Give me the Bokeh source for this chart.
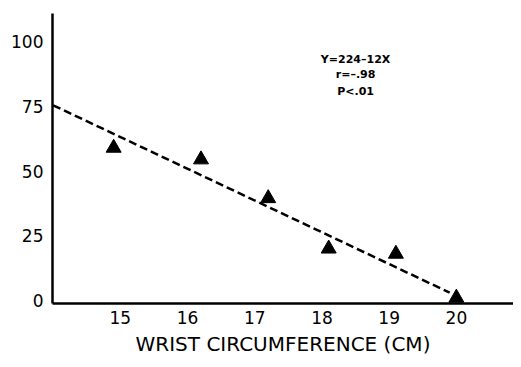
from bokeh.plotting import figure
from bokeh.models import FixedTicker, Range1d
from bokeh.core.properties import value
from bokeh.embed import file_html
from bokeh.resources import INLINE

# data
wrist_cm = [14.9, 16.2, 17.2, 18.1, 19.1, 20.0]
y_values = [59, 54.5, 39.5, 20, 18, 1]
fit_x = [14.0, 19.9]
fit_y = [75.5, 3.0]
x_ticks = [15, 16, 17, 18, 19, 20]
y_ticks = [0, 25, 50, 75, 100]
annotation = ["Y=224\u201312X", "r=\u2013.98", "P<.01"]
x_title = "WRIST CIRCUMFERENCE (CM)"

p = figure(width=513, height=359, output_backend="svg", toolbar_location=None,
           x_range=Range1d(13.99, 20.85), y_range=Range1d(-1.2, 111),
           min_border_left=52, min_border_right=0, min_border_top=13,
           min_border_bottom=56)
p.outline_line_color = None
p.grid.visible = False
p.background_fill_color = "white"
p.border_fill_color = "white"

for ax in (p.xaxis[0], p.yaxis[0]):
    ax.axis_line_width = 2.5
    ax.axis_line_color = "black"
    ax.major_tick_line_color = None
    ax.minor_tick_line_color = None
    ax.major_tick_out = 0
    ax.major_tick_in = 0
    ax.major_label_text_font = "DejaVu Sans"
    ax.major_label_text_font_size = "17px"
    ax.major_label_text_color = "black"

p.xaxis.ticker = FixedTicker(ticks=x_ticks)
p.yaxis.ticker = FixedTicker(ticks=y_ticks)
p.xaxis.major_label_standoff = 7
p.yaxis.major_label_standoff = 9
p.xaxis.axis_label = x_title
p.xaxis.axis_label_text_font = "DejaVu Sans"
p.xaxis.axis_label_text_font_style = "normal"
p.xaxis.axis_label_text_font_size = "20px"
p.xaxis.axis_label_text_color = "black"
p.xaxis.axis_label_standoff = 5

p.line(fit_x, fit_y, line_color="black", line_width=2.5, line_dash="8 4")
p.scatter(wrist_cm, y_values, marker="triangle", size=15,
          fill_color="black", line_color="black")

p.text(x=[18.5, 18.5, 18.5], y=[93.2, 87.5, 81.0], text=annotation,
       text_font=value("DejaVu Sans"), text_font_style="bold",
       text_font_size="11px", text_align="center", text_baseline="middle",
       text_color="black")

open("out.html", "w").write(file_html(p, INLINE))
